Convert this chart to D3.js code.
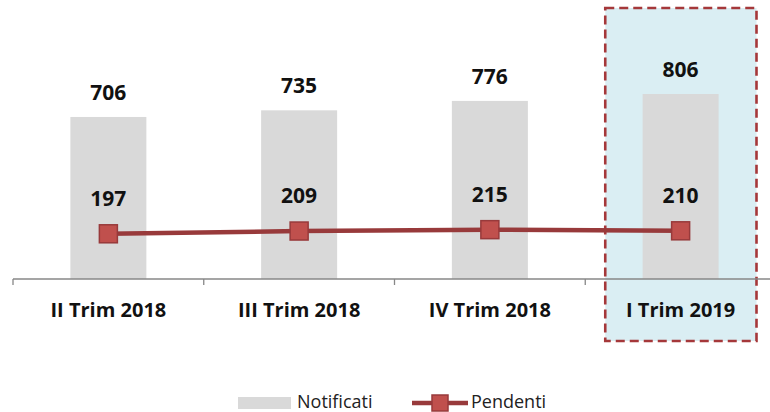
<!DOCTYPE html>
<html><head><meta charset="utf-8">
<script src="https://cdn.jsdelivr.net/npm/d3@7"></script>
<style>body{margin:0;background:#fff}svg{display:block}</style>
</head><body>
<svg id="c" width="770" height="412"></svg>
<script>
const categories = ["II Trim 2018","III Trim 2018","IV Trim 2018","I Trim 2019"];
const notificati = [706,735,776,806];
const pendenti = [197,209,215,210];
const highlighted = "I Trim 2019";

const svg = d3.select("#c");
const font = "'Open Sans', sans-serif";
const x = d3.scaleBand().domain(categories).range([13, 776]).paddingInner(0).paddingOuter(0);
const y = d3.scaleLinear().domain([0,1200]).range([279, 3.6]);
const barW = 76;

// highlight box
const hx = x(highlighted);
svg.append("rect")
  .attr("x", hx + 20).attr("y", 8)
  .attr("width", x.bandwidth() - 40 + 0.5).attr("height", 333)
  .attr("fill", "#daeef3").attr("stroke", "#a5383a").attr("stroke-width", 2.6)
  .attr("stroke-dasharray", "9,5");

// bars
svg.selectAll(".bar").data(categories).join("rect")
  .attr("x", d => x(d) + x.bandwidth()/2 - barW/2)
  .attr("y", (d,i) => y(notificati[i]))
  .attr("width", barW)
  .attr("height", (d,i) => y(0) - y(notificati[i]))
  .attr("fill", "#d9d9d9");

// axis
const axis = svg.append("g").attr("transform", `translate(0,${y(0)})`)
  .call(d3.axisBottom(x).tickSize(0).tickPadding(0).tickFormat(""));
axis.select(".domain").remove();
axis.append("line").attr("x1", 13).attr("x2", 770).attr("stroke", "#878787").attr("stroke-width", 1.3);
const bounds = categories.map(c => x(c)).concat([x.range()[1]]);
axis.selectAll(".tb").data(bounds).join("line")
  .attr("x1", d => d).attr("x2", d => d).attr("y1", 0).attr("y2", 6)
  .attr("stroke", "#878787").attr("stroke-width", 1.3);
svg.selectAll(".cat").data(categories).join("text")
  .attr("x", d => x(d) + x.bandwidth()/2).attr("y", 317)
  .attr("text-anchor", "middle").attr("font-family", font).attr("font-weight", "bold")
  .attr("font-size", 20).attr("fill", "#111").text(d => d);

// bar labels
svg.selectAll(".bl").data(categories).join("text")
  .attr("x", d => x(d) + x.bandwidth()/2).attr("y", (d,i) => y(notificati[i]) - 17)
  .attr("text-anchor", "middle").attr("font-family", font).attr("font-weight", "bold")
  .attr("font-size", 21).attr("fill", "#111").text((d,i) => notificati[i]);

// line
const line = d3.line().x(d => x(d.c) + x.bandwidth()/2).y(d => y(d.v));
const pts = categories.map((c,i) => ({c, v: pendenti[i]}));
svg.append("path").datum(pts).attr("d", line)
  .attr("fill", "none").attr("stroke", "#983a3b").attr("stroke-width", 4.5);
const ms = 18;
svg.selectAll(".mk").data(pts).join("rect")
  .attr("x", d => x(d.c) + x.bandwidth()/2 - ms/2).attr("y", d => y(d.v) - ms/2)
  .attr("width", ms).attr("height", ms)
  .attr("fill", "#c0504d").attr("stroke", "#983a3b").attr("stroke-width", 1.5);
svg.selectAll(".pl").data(pts).join("text")
  .attr("x", d => x(d.c) + x.bandwidth()/2).attr("y", d => y(d.v) - 28)
  .attr("text-anchor", "middle").attr("font-family", font).attr("font-weight", "bold")
  .attr("font-size", 21).attr("fill", "#111").text(d => d.v);

// legend
const lg = svg.append("g");
lg.append("rect").attr("x", 238).attr("y", 397).attr("width", 53).attr("height", 12).attr("fill", "#d9d9d9");
lg.append("text").attr("x", 297).attr("y", 408).attr("font-family", font).attr("font-size", 18)
  .attr("fill", "#222").text("Notificati");
lg.append("line").attr("x1", 412).attr("x2", 468).attr("y1", 403).attr("y2", 403)
  .attr("stroke", "#983a3b").attr("stroke-width", 4.5);
lg.append("rect").attr("x", 440 - 8).attr("y", 403 - 8).attr("width", 16).attr("height", 16)
  .attr("fill", "#c0504d").attr("stroke", "#983a3b").attr("stroke-width", 1.5);
lg.append("text").attr("x", 471).attr("y", 408).attr("font-family", font).attr("font-size", 18)
  .attr("fill", "#222").text("Pendenti");
</script>
</body></html>
